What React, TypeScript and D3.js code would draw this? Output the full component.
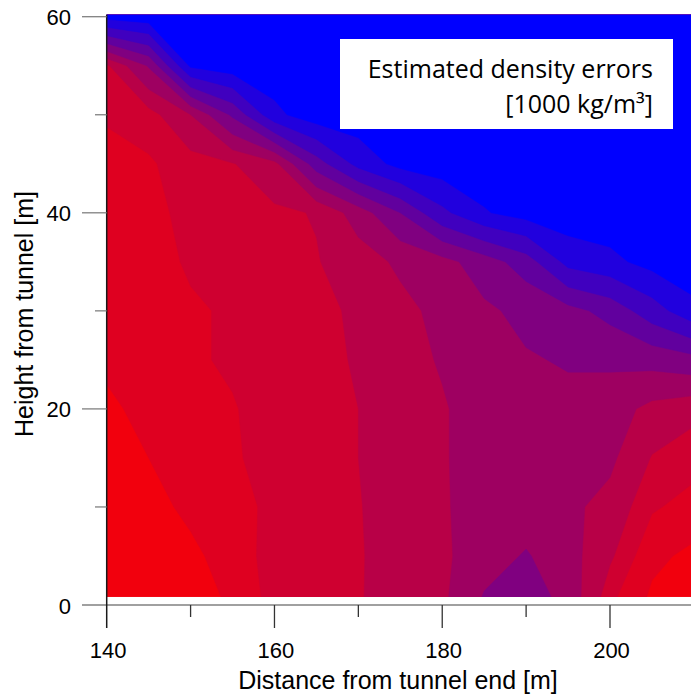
import React, {useRef, useEffect} from 'react'
import * as d3 from 'd3'

const W = 691
const H = 694

// grid of the estimated error field
const distances = [140, 145, 150, 155, 160, 165, 170, 175, 180, 185, 190, 195, 200, 205, 210]
const heights = [60, 55, 50, 45, 40, 35, 30, 25, 20, 15, 10, 5, 0]
// rows go from 60 m (top) down to 0 m, columns follow distances
const errorRows = [
  [0.97, 1, 1, 1, 1, 1, 1, 1, 1, 1, 1, 1, 1, 1, 1],
  [0.22, 0.45, 0.95, 1, 1, 1, 1, 1, 1, 1, 1, 1, 1, 1, 1],
  [0.17, 0.2, 0.33, 0.58, 0.9, 1, 1, 1, 1, 1, 1, 1, 1, 1, 1],
  [0.13, 0.15, 0.2, 0.23, 0.3, 0.62, 0.85, 0.97, 1, 1, 1, 1, 1, 1, 1],
  [0.12, 0.14, 0.18, 0.2, 0.22, 0.24, 0.38, 0.56, 0.78, 0.92, 0.98, 1, 1, 1, 1],
  [0.12, 0.13, 0.17, 0.19, 0.21, 0.23, 0.28, 0.35, 0.4, 0.5, 0.62, 0.85, 0.9, 0.97, 1],
  [0.11, 0.12, 0.15, 0.17, 0.2, 0.22, 0.245, 0.3, 0.36, 0.42, 0.47, 0.52, 0.6, 0.75, 0.9],
  [0.1, 0.13, 0.15, 0.17, 0.2, 0.22, 0.24, 0.29, 0.34, 0.4, 0.43, 0.45, 0.46, 0.48, 0.52],
  [0.06, 0.11, 0.14, 0.155, 0.19, 0.21, 0.235, 0.28, 0.32, 0.38, 0.41, 0.41, 0.38, 0.3, 0.26],
  [0.05, 0.08, 0.12, 0.15, 0.19, 0.21, 0.235, 0.28, 0.32, 0.38, 0.4, 0.38, 0.35, 0.23, 0.19],
  [0.02, 0.05, 0.1, 0.13, 0.18, 0.2, 0.23, 0.28, 0.32, 0.37, 0.38, 0.35, 0.3, 0.17, 0.13],
  [0.01, 0.03, 0.06, 0.12, 0.19, 0.2, 0.225, 0.29, 0.31, 0.39, 0.45, 0.37, 0.25, 0.1, 0.06],
  [0.0, 0.01, 0.04, 0.09, 0.19, 0.2, 0.225, 0.3, 0.31, 0.46, 0.53, 0.4, 0.17, 0.06, 0.02]
]

// colour of each band (0 = red, 1 = blue) and the breaks between bands
const levelValues = [0.05, 0.125, 0.19, 0.28, 0.38, 0.5, 0.62, 0.75, 0.87, 1.0]
const levelBreaks = [0.08, 0.16, 0.235, 0.33, 0.44, 0.56, 0.68, 0.81, 0.93]

const xMajor = [140, 160, 180, 200]
const xMinor = [150, 170, 190]
const yMajor = [0, 20, 40, 60]
const yMinor = [10, 30, 50]

const axisFont = '"Liberation Sans", Arial, sans-serif'
const legendFont = '"Open Sans", sans-serif'

export default function App() {
  const svgRef = useRef(null)

  useEffect(() => {
    const svg = d3.select(svgRef.current)
    svg.selectAll('*').remove()

    const x = d3.scaleLinear().domain([140, 200]).range([106.7, 610])
    const y = d3.scaleLinear().domain([0, 60]).range([605, 16.7])

    const nx = distances.length
    const ny = heights.length
    const gx = d3.scaleLinear().domain([0.5, nx - 0.5]).range([x(distances[0]), x(distances[nx - 1])])
    const gy = d3.scaleLinear().domain([0.5, ny - 0.5]).range([y(heights[0]), y(heights[ny - 1])])

    const color = t => d3.interpolateRgb('#ff0000', '#0000ff')(t)

    const clipTop = y(60.2)
    const clipBottom = y(0.82)
    const clipLeft = x(140)
    const clipRight = x(210)

    svg.append('defs')
      .append('clipPath')
      .attr('id', 'plotClip')
      .append('rect')
      .attr('x', clipLeft)
      .attr('y', clipTop)
      .attr('width', clipRight - clipLeft)
      .attr('height', clipBottom - clipTop)

    const field = svg.append('g').attr('clip-path', 'url(#plotClip)')

    field.append('rect')
      .attr('x', clipLeft)
      .attr('y', clipTop)
      .attr('width', clipRight - clipLeft)
      .attr('height', clipBottom - clipTop)
      .attr('fill', color(levelValues[0]))

    const values = errorRows.flat()
    const bands = d3.contours().size([nx, ny]).thresholds(levelBreaks)(values)

    const path = d3.geoPath(d3.geoTransform({
      point: function(px, py) {
        this.stream.point(gx(px), gy(py))
      }
    }))

    field.selectAll('path.band')
      .data(bands)
      .enter()
      .append('path')
      .attr('class', 'band')
      .attr('d', path)
      .attr('fill', (d, i) => color(levelValues[i + 1]))
      .attr('stroke', (d, i) => color(levelValues[i + 1]))
      .attr('stroke-width', 0.5)

    // axes
    const axisY = y(0)
    svg.append('line')
      .attr('x1', 82).attr('x2', W)
      .attr('y1', axisY).attr('y2', axisY)
      .attr('stroke', '#808080').attr('stroke-width', 1.5)

    svg.append('line')
      .attr('x1', x(140)).attr('x2', x(140))
      .attr('y1', clipTop).attr('y2', axisY + 23)
      .attr('stroke', '#1a1a1a').attr('stroke-width', 1.5)

    svg.selectAll('line.xmaj')
      .data(xMajor.slice(1))
      .enter()
      .append('line')
      .attr('x1', d => x(d)).attr('x2', d => x(d))
      .attr('y1', axisY).attr('y2', axisY + 23)
      .attr('stroke', '#333').attr('stroke-width', 1.3)

    svg.selectAll('line.xmin')
      .data(xMinor)
      .enter()
      .append('line')
      .attr('x1', d => x(d)).attr('x2', d => x(d))
      .attr('y1', axisY).attr('y2', axisY + 12)
      .attr('stroke', '#333').attr('stroke-width', 1.3)

    svg.selectAll('line.ymaj')
      .data(yMajor.slice(1))
      .enter()
      .append('line')
      .attr('x1', 82).attr('x2', x(140))
      .attr('y1', d => y(d)).attr('y2', d => y(d))
      .attr('stroke', '#808080').attr('stroke-width', 1.3)

    svg.selectAll('line.ymin')
      .data(yMinor)
      .enter()
      .append('line')
      .attr('x1', 95).attr('x2', x(140))
      .attr('y1', d => y(d)).attr('y2', d => y(d))
      .attr('stroke', '#808080').attr('stroke-width', 1.3)

    svg.selectAll('text.xlab')
      .data(xMajor)
      .enter()
      .append('text')
      .attr('x', d => x(d) + 1.5)
      .attr('y', 658)
      .attr('text-anchor', 'middle')
      .style('font-family', axisFont)
      .style('font-size', '22px')
      .attr('fill', '#000')
      .text(d => d)

    svg.selectAll('text.ylab')
      .data(yMajor)
      .enter()
      .append('text')
      .attr('x', 71)
      .attr('y', d => y(d) + 8.5)
      .attr('text-anchor', 'end')
      .style('font-family', axisFont)
      .style('font-size', '22px')
      .attr('fill', '#000')
      .text(d => d)

    svg.append('text')
      .attr('x', 398)
      .attr('y', 689)
      .attr('text-anchor', 'middle')
      .style('font-family', axisFont)
      .style('font-size', '25px')
      .attr('fill', '#000')
      .text('Distance from tunnel end [m]')

    svg.append('text')
      .attr('transform', 'translate(33,314) rotate(-90)')
      .attr('text-anchor', 'middle')
      .style('font-family', axisFont)
      .style('font-size', '25px')
      .attr('fill', '#000')
      .text('Height from tunnel [m]')

    // legend box
    const legend = svg.append('g')
    legend.append('rect')
      .attr('x', 340).attr('y', 39)
      .attr('width', 333).attr('height', 90)
      .attr('fill', '#fff')
    legend.append('text')
      .attr('x', 653).attr('y', 77.7)
      .attr('text-anchor', 'end')
      .style('font-family', legendFont)
      .style('font-size', '25px')
      .attr('fill', '#000')
      .text('Estimated density errors')
    legend.append('text')
      .attr('x', 653).attr('y', 112.7)
      .attr('text-anchor', 'end')
      .style('font-family', legendFont)
      .style('font-size', '25px')
      .attr('fill', '#000')
      .text('[1000 kg/m³]')
  }, [])

  return (
    <svg
      ref={svgRef}
      width={W}
      height={H}
      style={{position: 'absolute', left: 0, top: 0, background: '#fff', display: 'block'}}
    />
  )
}
